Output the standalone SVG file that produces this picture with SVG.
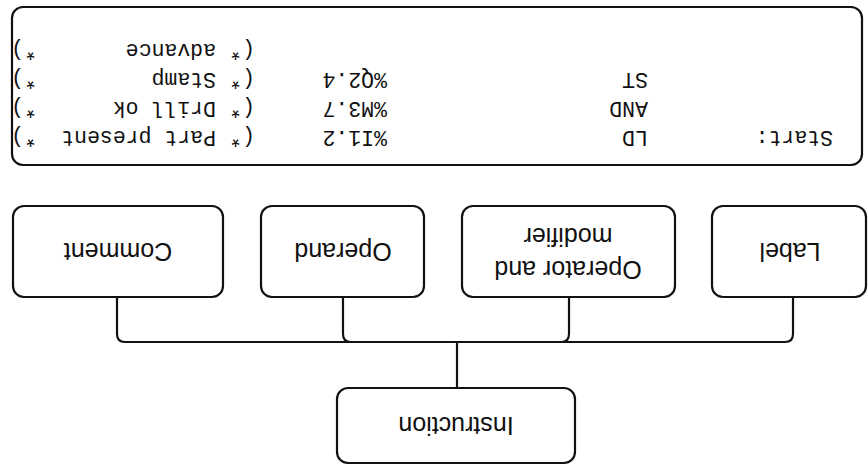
<svg xmlns="http://www.w3.org/2000/svg" width="868" height="465" viewBox="0 0 868 465">
<style>
.box{fill:#fff;stroke:#111;stroke-width:2.2}
.wire{fill:none;stroke:#111;stroke-width:2.2}
.lbl{font-family:"Liberation Sans",Arial,sans-serif;font-size:25px;fill:#111;text-anchor:middle}
.code{font-family:"Liberation Mono","Courier New",monospace;font-size:21.5px;fill:#111}
</style>
<rect width="868" height="465" fill="#fff"/>
<g transform="rotate(180 434 232.5)">
<g id="connectors">
<path class="wire" d="M75 168V131Q75 123 83 123H743Q751 123 751 131V168"/>
<path class="wire" d="M299 168V131Q299 123 307 123"/>
<path class="wire" d="M525 168V131Q525 123 517 123"/>
<path class="wire" d="M411 123V77"/>
</g>
<g id="instruction">
<rect class="box" x="293" y="2" width="238" height="75" rx="11"/>
<text class="lbl" x="412" y="48">Instruction</text>
</g>
<g id="label">
<rect class="box" x="2" y="168" width="154" height="91" rx="11"/>
<text class="lbl" x="78" y="222">Label</text>
</g>
<g id="operator">
<rect class="box" x="193" y="168" width="213" height="91" rx="11"/>
<text class="lbl" x="300" y="204">Operator and</text>
<text class="lbl" x="300" y="237">modifier</text>
</g>
<g id="operand">
<rect class="box" x="444" y="168" width="163" height="91" rx="11"/>
<text class="lbl" x="525" y="222">Operand</text>
</g>
<g id="comment">
<rect class="box" x="645" y="168" width="210" height="91" rx="11"/>
<text class="lbl" x="750" y="222">Comment</text>
</g>
<g id="code">
<rect class="box" x="6" y="300" width="850" height="158" rx="11"/>
<text class="code" x="35" y="334">Start:</text>
<text class="code" x="220" y="334">LD</text>
<text class="code" x="220" y="363">AND</text>
<text class="code" x="220" y="392">ST</text>
<text class="code" x="481" y="334">%I1.2</text>
<text class="code" x="481" y="363">%M3.7</text>
<text class="code" x="481" y="392">%Q2.4</text>
<text class="code" x="613" y="334">(*</text>
<text class="code" x="613" y="363">(*</text>
<text class="code" x="613" y="392">(*</text>
<text class="code" x="613" y="421">(*</text>
<text class="code" x="652" y="334">Part present</text>
<text class="code" x="652" y="363">Drill ok</text>
<text class="code" x="652" y="392">Stamp</text>
<text class="code" x="652" y="421">advance</text>
<text class="code" x="831" y="334">*)</text>
<text class="code" x="831" y="363">*)</text>
<text class="code" x="831" y="392">*)</text>
<text class="code" x="831" y="421">*)</text>
</g>
</g>
</svg>
